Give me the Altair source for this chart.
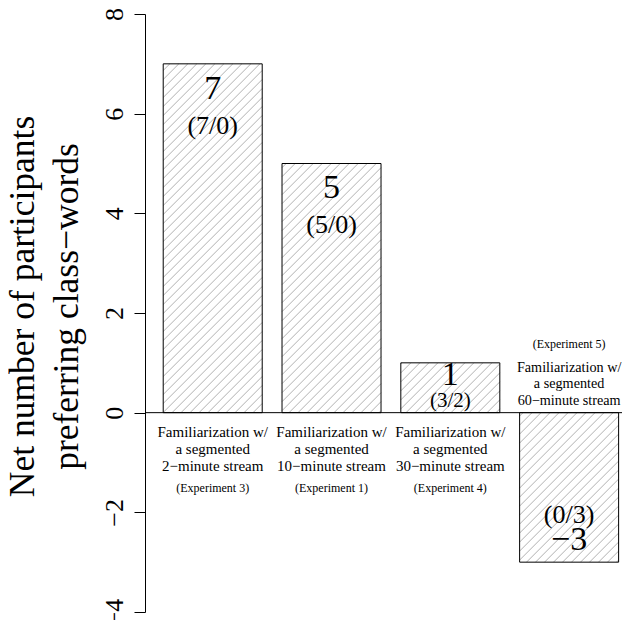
import altair as alt
import pandas as pd
import numpy as np

# ---------------- data ----------------
categories = [
    "Familiarization w/\na segmented\n2−minute stream",
    "Familiarization w/\na segmented\n10−minute stream",
    "Familiarization w/\na segmented\n30−minute stream",
    "Familiarization w/\na segmented\n60−minute stream",
]
experiments = ["(Experiment 3)", "(Experiment 1)", "(Experiment 4)", "(Experiment 5)"]
net_values = [7, 5, 1, -3]
pref_counts = ["(7/0)", "(5/0)", "(3/2)", "(0/3)"]
y_ticks = [-4, -2, 0, 2, 4, 6, 8]
y_title = ["Net number of participants", "preferring class−words"]

# ---------------- layout / style ----------------
FONT = "Liberation Serif"
PX_PER_X = 99.0
X_MIN = 0.016
W, H = 477, 598
X_MAX = X_MIN + W / PX_PER_X
Y_MIN, Y_MAX = -4, 8
SX = W / (X_MAX - X_MIN)      # px per x unit
SY = H / (Y_MAX - Y_MIN)      # px per y unit
HATCH_STEP = 9                # px between hatch lines (horizontal)
BAR_SPACE, BAR_WIDTH = 0.2, 1.0

rows = []
for i, (cat, exp, v, pc) in enumerate(zip(categories, experiments, net_values, pref_counts)):
    xl = BAR_SPACE + i * (BAR_SPACE + BAR_WIDTH)
    xr = xl + BAR_WIDTH
    big = abs(v) >= 2
    if v > 0:
        main_y = v - (0.5 if big else 0.24)
        paren_y = v - (1.24 if big else 0.76)
    else:
        main_y = v + 0.44
        paren_y = v + 0.95
    rows.append(dict(cat=cat, exp=exp, value=v, label=f"{v}".replace("-", "−"),
                     pc=pc, xl=xl, xr=xr, xc=(xl + xr) / 2, zero=0,
                     main_y=main_y, paren_y=paren_y,
                     psize=26 if big else 21))
df = pd.DataFrame(rows)

# hatch segments (45 degrees in pixel space), clipped to each bar
hatch = []
for r in rows:
    xl_px = (r["xl"] - X_MIN) * SX
    xr_px = (r["xr"] - X_MIN) * SX
    yb_px = min(0, r["value"]) * SY
    yt_px = max(0, r["value"]) * SY
    c = np.floor((xl_px - yt_px) / HATCH_STEP) * HATCH_STEP
    while c <= xr_px - yb_px:
        ys = max(yb_px, xl_px - c)
        ye = min(yt_px, xr_px - c)
        if ye > ys:
            hatch.append(dict(hx=(ys + c) / SX + X_MIN, hy=ys / SY,
                              hx2=(ye + c) / SX + X_MIN, hy2=ye / SY))
        c += HATCH_STEP
hdf = pd.DataFrame(hatch)

xscale = alt.Scale(domain=[X_MIN, X_MAX], nice=False, zero=False)
yscale = alt.Scale(domain=[Y_MIN, Y_MAX], nice=False, zero=False)
yaxis = alt.Axis(
    values=y_ticks, grid=False, labelAngle=270, labelAlign="center",
    labelBaseline="alphabetic", labelPadding=12, tickSize=11,
    labelFont=FONT, labelFontSize=26, labelColor="black",
    tickColor="black", domainColor="black", labelOverlap=False, labelFlush=False,
    title=y_title, titleFont=FONT, titleFontSize=35.5, titleFontWeight="normal",
    titleColor="black", titleAngle=270, titleAlign="center",
    titleBaseline="alphabetic", titleX=-112, titleY=292, titleLineHeight=44,
)


def X(field):
    return alt.X(f"{field}:Q", scale=xscale, axis=None)


def Y(field):
    return alt.Y(f"{field}:Q", scale=yscale, axis=yaxis)


base = alt.Chart(df)

bars_fill = base.mark_rect(fill="white", stroke=None).encode(
    x=X("xl"), x2="xr", y=Y("zero"), y2="value")

hatch_layer = alt.Chart(hdf).mark_rule(color="#a8a8a8", strokeWidth=0.9).encode(
    x=X("hx"), x2="hx2", y=Y("hy"), y2="hy2")

bars_outline = base.mark_rect(fill=None, fillOpacity=0, stroke="black", strokeWidth=1).encode(
    x=X("xl"), x2="xr", y=Y("zero"), y2="value")

zero_line = alt.Chart(pd.DataFrame({"zero": [0]})).mark_rule(color="black", strokeWidth=1).encode(
    y=Y("zero"))

main_lbl = base.mark_text(font=FONT, fontSize=34, baseline="middle", color="black").encode(
    x=X("xc"), y=Y("main_y"), text="label:N")

paren_lbl = base.mark_text(font=FONT, baseline="middle", color="black").encode(
    x=X("xc"), y=Y("paren_y"), text="pc:N",
    size=alt.Size("psize:Q", scale=None, legend=None))

pos = base.transform_filter("datum.value > 0")
neg = base.transform_filter("datum.value < 0")

cat_pos = pos.mark_text(font=FONT, fontSize=15, lineBreak="\n", lineHeight=17,
                        baseline="alphabetic", dy=24, color="black").encode(
    x=X("xc"), y=Y("zero"), text="cat:N")
exp_pos = pos.mark_text(font=FONT, fontSize=12, baseline="alphabetic", dy=79,
                        color="black").encode(
    x=X("xc"), y=Y("zero"), text="exp:N")
cat_neg = neg.mark_text(font=FONT, fontSize=14.2, lineBreak="\n", lineHeight=16.7,
                        baseline="alphabetic", dy=-41, color="black").encode(
    x=X("xc"), y=Y("zero"), text="cat:N")
exp_neg = neg.mark_text(font=FONT, fontSize=12, baseline="alphabetic", dy=-65,
                        color="black").encode(
    x=X("xc"), y=Y("zero"), text="exp:N")

chart = alt.layer(
    bars_fill, hatch_layer, bars_outline, zero_line,
    main_lbl, paren_lbl, cat_pos, exp_pos, cat_neg, exp_neg,
).properties(
    width=W, height=H,
    padding={"left": 137, "top": 6, "right": 0, "bottom": 8},
    autosize=alt.AutoSizeParams(type="none"),
    background="white",
).configure_view(stroke=None)

chart.save("out.html", embed_options={"renderer": "svg", "actions": False})
